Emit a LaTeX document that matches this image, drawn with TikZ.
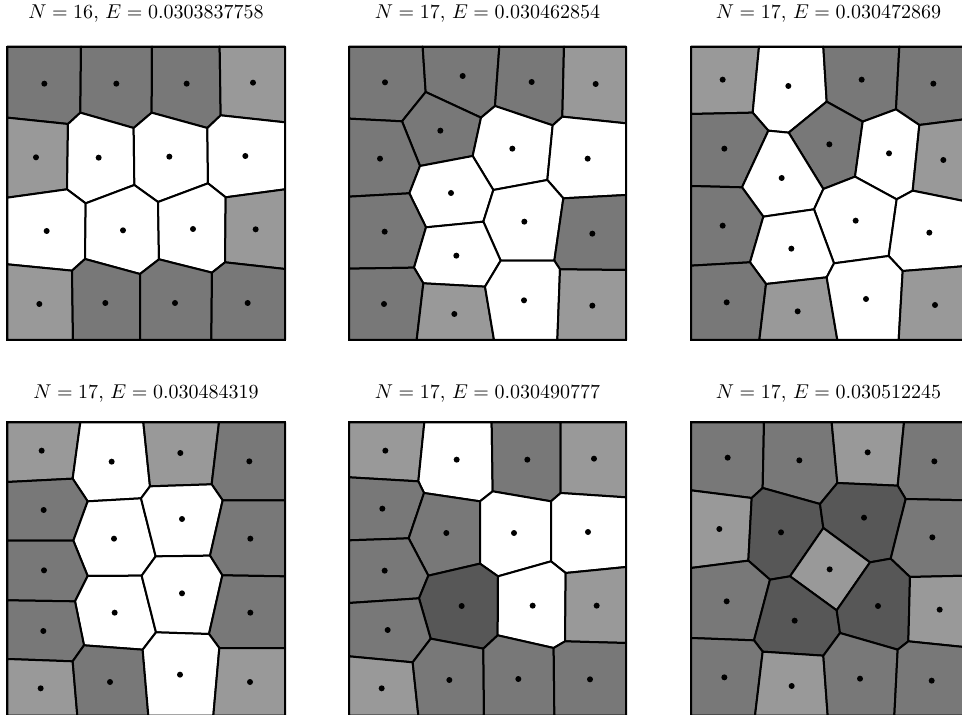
\documentclass[tikz,border=0pt]{standalone}
\usepackage{xcolor}
\usepackage{tikz}

\definecolor{lightcell}{gray}{0.6}
\definecolor{darkcell}{gray}{0.47}
\definecolor{darkestcell}{gray}{0.34}

\begin{document}
\begin{tikzpicture}[x=0.5pt,y=-0.5pt,
    cell/.style={draw=black,line width=1pt,line join=round},
    side4/.style={cell,fill=lightcell},
    side5/.style={cell,fill=darkcell},
    side6/.style={cell,fill=white},
    side7/.style={cell,fill=darkestcell},
    frame/.style={draw=black,line width=1pt},
    title/.style={anchor=base,inner sep=0pt}]
  \useasboundingbox (0,0) rectangle (962,715);
  \clip (0,0) rectangle (962,715);

  % titles
  \node[title] (t1) at (146,18.3) {$N=16$, $E=0.0303837758$};
  \node[title] (t2) at (487.5,18.3) {$N=17$, $E=0.030462854$};
  \node[title] (t3) at (828.5,18.3) {$N=17$, $E=0.030472869$};
  \node[title] (t4) at (146,398.3) {$N=17$, $E=0.030484319$};
  \node[title] (t5) at (487.5,398.3) {$N=17$, $E=0.030490777$};
  \node[title] (t6) at (828.5,398.3) {$N=17$, $E=0.030512245$};

  % panel 1
  \begin{scope}[shift={(0,40)},scale=1/3]
    \filldraw[side5] (22,20)--(243,20)--(241,218)--(204,252)--(22,233)--cycle;
    \filldraw[side5] (243,20)--(456,20)--(455,218)--(401,264)--(241,218)--cycle;
    \filldraw[side5] (456,20)--(659,20)--(662,226)--(622,264)--(455,218)--cycle;
    \filldraw[side4] (659,20)--(855,20)--(855,247)--(662,226)--cycle;
    \filldraw[side4] (22,233)--(204,252)--(201,448)--(22,473)--cycle;
    \filldraw[side6] (204,252)--(241,218)--(401,264)--(403,435)--(257,490)--(201,448)--cycle;
    \filldraw[side6] (401,264)--(455,218)--(622,264)--(624,430)--(474,486)--(403,435)--cycle;
    \filldraw[side6] (622,264)--(662,226)--(855,247)--(855,448)--(677,472)--(624,430)--cycle;
    \filldraw[side6] (22,473)--(201,448)--(257,490)--(255,657)--(216,692)--(22,673)--cycle;
    \filldraw[side6] (257,490)--(403,435)--(474,486)--(477,658)--(420,702)--(255,657)--cycle;
    \filldraw[side6] (474,486)--(624,430)--(677,472)--(675,667)--(636,698)--(477,658)--cycle;
    \filldraw[side4] (677,472)--(855,448)--(855,687)--(675,667)--cycle;
    \filldraw[side4] (22,673)--(216,692)--(219,900)--(22,900)--cycle;
    \filldraw[side5] (216,692)--(255,657)--(420,702)--(420,900)--(219,900)--cycle;
    \filldraw[side5] (420,702)--(477,658)--(636,698)--(634,900)--(420,900)--cycle;
    \filldraw[side5] (636,698)--(675,667)--(855,687)--(855,900)--(634,900)--cycle;
    \draw[frame] (22,20) rectangle (855,900);
    \foreach \p in {(133,131),(349,131),(560,131),(759,128),(108,352),(296,353),
        (508,350),(736,348),(140,573),(369,571),(579,567),(767,568),(118,792),
        (316,789),(525,789),(743,789)}
      \fill \p circle[radius=9];
  \end{scope}

  % panel 2
  \begin{scope}[shift={(340,40)},scale=1/3]
    \filldraw[side5] (27,20)--(248,20)--(257,156)--(186,244)--(27,236)--cycle;
    \filldraw[side5] (248,20)--(478,20)--(465,198)--(423,233)--(257,156)--cycle;
    \filldraw[side5] (478,20)--(672,20)--(667,230)--(638,256)--(465,198)--cycle;
    \filldraw[side4] (672,20)--(858,20)--(858,250)--(667,230)--cycle;
    \filldraw[side5] (257,156)--(423,233)--(398,348)--(240,378)--(186,244)--cycle;
    \filldraw[side5] (27,236)--(186,244)--(240,378)--(208,460)--(27,470)--cycle;
    \filldraw[side6] (423,233)--(465,198)--(638,256)--(622,420)--(460,450)--(398,348)--cycle;
    \filldraw[side6] (638,256)--(667,230)--(858,250)--(858,465)--(670,475)--(622,420)--cycle;
    \filldraw[side6] (240,378)--(398,348)--(460,450)--(430,545)--(258,562)--(208,460)--cycle;
    \filldraw[side5] (27,470)--(208,460)--(258,562)--(222,683)--(27,686)--cycle;
    \filldraw[side6] (460,450)--(622,420)--(670,475)--(643,662)--(482,662)--(430,545)--cycle;
    \filldraw[side5] (670,475)--(858,465)--(858,690)--(660,688)--(643,662)--cycle;
    \filldraw[side6] (258,562)--(430,545)--(482,662)--(435,740)--(250,730)--(222,683)--cycle;
    \filldraw[side5] (27,686)--(222,683)--(250,730)--(230,900)--(27,900)--cycle;
    \filldraw[side4] (250,730)--(435,740)--(462,900)--(230,900)--cycle;
    \filldraw[side6] (482,662)--(643,662)--(660,688)--(652,900)--(462,900)--(435,740)--cycle;
    \filldraw[side4] (660,688)--(858,690)--(858,900)--(652,900)--cycle;
    \draw[frame] (27,20) rectangle (858,900);
    \foreach \p in {(135,127),(368,108),(575,126),(767,132),(301,272),(120,356),
        (517,326),(743,356),(333,459),(134,575),(553,545),(757,581),(349,647),
        (132,792),(343,822),(552,781),(757,797)}
      \fill \p circle[radius=9];
  \end{scope}

  % panel 3
  \begin{scope}[shift={(680,40)},scale=1/3]
    \filldraw[side4] (33,20)--(237,20)--(218,218)--(33,222)--cycle;
    \filldraw[side6] (237,20)--(430,20)--(440,185)--(326,278)--(265,272)--(218,218)--cycle;
    \filldraw[side5] (430,20)--(658,20)--(648,208)--(548,245)--(440,185)--cycle;
    \filldraw[side5] (658,20)--(861,20)--(861,237)--(718,255)--(648,208)--cycle;
    \filldraw[side5] (33,222)--(218,218)--(265,272)--(186,442)--(33,438)--cycle;
    \filldraw[side5] (326,278)--(440,185)--(548,245)--(525,410)--(430,447)--cycle;
    \filldraw[side6] (265,272)--(326,278)--(430,447)--(402,508)--(250,530)--(186,442)--cycle;
    \filldraw[side6] (548,245)--(648,208)--(718,255)--(698,452)--(650,478)--(525,410)--cycle;
    \filldraw[side4] (718,255)--(861,237)--(861,485)--(698,452)--cycle;
    \filldraw[side5] (33,438)--(186,442)--(250,530)--(210,667)--(33,677)--cycle;
    \filldraw[side6] (430,447)--(525,410)--(650,478)--(626,648)--(462,670)--(402,508)--cycle;
    \filldraw[side6] (650,478)--(698,452)--(861,485)--(861,678)--(668,693)--(626,648)--cycle;
    \filldraw[side6] (250,530)--(402,508)--(462,670)--(440,712)--(258,732)--(210,667)--cycle;
    \filldraw[side5] (33,677)--(210,667)--(258,732)--(238,900)--(33,900)--cycle;
    \filldraw[side4] (258,732)--(440,712)--(472,900)--(238,900)--cycle;
    \filldraw[side6] (462,670)--(626,648)--(668,693)--(656,900)--(472,900)--(440,712)--cycle;
    \filldraw[side4] (668,693)--(861,678)--(861,900)--(656,900)--cycle;
    \draw[frame] (33,20) rectangle (861,900);
    \foreach \p in {(128,119),(325,138),(545,119),(760,131),(133,326),(448,313),
        (305,414),(627,340),(790,360),(128,557),(527,542),(748,578),(334,626),
        (140,787),(353,814),(558,777),(765,795)}
      \fill \p circle[radius=9];
  \end{scope}

  % panel 4
  \begin{scope}[shift={(0,413)},scale=1/3]
    \filldraw[side4] (22,28)--(241,28)--(218,197)--(22,207)--cycle;
    \filldraw[side6] (241,28)--(430,28)--(450,220)--(423,256)--(263,265)--(218,197)--cycle;
    \filldraw[side4] (430,28)--(657,28)--(635,214)--(450,220)--cycle;
    \filldraw[side5] (657,28)--(855,28)--(855,262)--(668,262)--(635,214)--cycle;
    \filldraw[side5] (22,207)--(218,197)--(263,265)--(220,383)--(22,383)--cycle;
    \filldraw[side6] (263,265)--(423,256)--(467,430)--(425,488)--(263,489)--(220,383)--cycle;
    \filldraw[side6] (423,256)--(450,220)--(635,214)--(668,262)--(630,428)--(467,430)--cycle;
    \filldraw[side5] (668,262)--(855,262)--(855,490)--(667,487)--(630,428)--cycle;
    \filldraw[side5] (22,383)--(220,383)--(263,489)--(225,565)--(22,562)--cycle;
    \filldraw[side6] (263,489)--(425,488)--(468,658)--(428,710)--(252,697)--(225,565)--cycle;
    \filldraw[side6] (425,488)--(467,430)--(630,428)--(667,487)--(627,663)--(468,658)--cycle;
    \filldraw[side5] (667,487)--(855,490)--(855,705)--(658,705)--(627,663)--cycle;
    \filldraw[side5] (22,562)--(225,565)--(252,697)--(218,745)--(22,738)--cycle;
    \filldraw[side4] (22,738)--(218,745)--(232,908)--(22,908)--cycle;
    \filldraw[side5] (218,745)--(252,697)--(428,710)--(445,908)--(232,908)--cycle;
    \filldraw[side6] (428,710)--(468,658)--(627,663)--(658,705)--(640,908)--(445,908)--cycle;
    \filldraw[side4] (658,705)--(855,705)--(855,908)--(640,908)--cycle;
    \draw[frame] (22,28) rectangle (855,908);
    \foreach \p in {(125,113),(335,146),(541,120),(748,145),(131,291),(342,377),
        (546,318),(751,377),(132,472),(344,599),(546,541),(751,599),(130,654),
        (122,826),(330,807),(540,785),(750,807)}
      \fill \p circle[radius=9];
  \end{scope}

  % panel 5
  \begin{scope}[shift={(340,413)},scale=1/3]
    \filldraw[side4] (27,28)--(253,28)--(235,205)--(27,193)--cycle;
    \filldraw[side6] (253,28)--(455,28)--(458,235)--(420,265)--(252,240)--(235,205)--cycle;
    \filldraw[side5] (455,28)--(662,28)--(662,240)--(633,265)--(458,235)--cycle;
    \filldraw[side4] (662,28)--(858,28)--(858,253)--(662,240)--cycle;
    \filldraw[side5] (27,193)--(235,205)--(252,240)--(206,376)--(27,382)--cycle;
    \filldraw[side5] (252,240)--(420,265)--(420,452)--(265,488)--(206,376)--cycle;
    \filldraw[side6] (420,265)--(458,235)--(633,265)--(633,445)--(474,490)--(420,452)--cycle;
    \filldraw[side6] (633,265)--(662,240)--(858,253)--(858,462)--(677,480)--(633,445)--cycle;
    \filldraw[side5] (27,382)--(206,376)--(265,488)--(237,556)--(27,570)--cycle;
    \filldraw[side7] (265,488)--(420,452)--(474,490)--(473,667)--(430,707)--(272,677)--(237,556)--cycle;
    \filldraw[side6] (474,490)--(633,445)--(677,480)--(675,685)--(641,705)--(473,667)--cycle;
    \filldraw[side4] (677,480)--(858,462)--(858,690)--(675,685)--cycle;
    \filldraw[side5] (27,570)--(237,556)--(272,677)--(218,748)--(27,730)--cycle;
    \filldraw[side4] (27,730)--(218,748)--(235,908)--(27,908)--cycle;
    \filldraw[side5] (218,748)--(272,677)--(430,707)--(432,908)--(235,908)--cycle;
    \filldraw[side5] (430,707)--(473,667)--(641,705)--(643,908)--(432,908)--cycle;
    \filldraw[side5] (641,705)--(675,685)--(858,690)--(858,908)--(643,908)--cycle;
    \draw[frame] (27,28) rectangle (858,908);
    \foreach \p in {(136,113),(350,140),(562,140),(762,137),(127,287),(319,360),
        (522,360),(744,357),(134,473),(365,579),(578,578),(770,578),(143,651),
        (125,826),(328,801),(535,798),(750,799)}
      \fill \p circle[radius=9];
  \end{scope}

  % panel 6
  \begin{scope}[shift={(680,413)},scale=1/3]
    \filldraw[side5] (33,28)--(252,28)--(248,225)--(215,255)--(33,232)--cycle;
    \filldraw[side5] (252,28)--(455,28)--(472,210)--(420,273)--(248,225)--cycle;
    \filldraw[side4] (455,28)--(672,28)--(653,218)--(472,210)--cycle;
    \filldraw[side5] (672,28)--(861,28)--(861,262)--(677,258)--(653,218)--cycle;
    \filldraw[side4] (33,232)--(215,255)--(205,443)--(33,465)--cycle;
    \filldraw[side7] (215,255)--(248,225)--(420,273)--(430,345)--(330,490)--(270,500)--(205,443)--cycle;
    \filldraw[side7] (420,273)--(472,210)--(653,218)--(677,258)--(632,437)--(570,448)--(430,345)--cycle;
    \filldraw[side5] (677,258)--(861,262)--(861,488)--(690,492)--(632,437)--cycle;
    \filldraw[side4] (430,345)--(570,448)--(470,592)--(330,490)--cycle;
    \filldraw[side5] (33,465)--(205,443)--(270,500)--(222,682)--(33,675)--cycle;
    \filldraw[side7] (270,500)--(330,490)--(470,592)--(480,660)--(430,728)--(248,716)--(222,682)--cycle;
    \filldraw[side7] (570,448)--(632,437)--(690,492)--(685,685)--(653,710)--(480,660)--(470,592)--cycle;
    \filldraw[side4] (690,492)--(861,488)--(861,703)--(685,685)--cycle;
    \filldraw[side5] (33,675)--(222,682)--(248,716)--(225,908)--(33,908)--cycle;
    \filldraw[side4] (248,716)--(430,728)--(443,908)--(225,908)--cycle;
    \filldraw[side5] (430,728)--(480,660)--(653,710)--(643,908)--(443,908)--cycle;
    \filldraw[side5] (653,710)--(685,685)--(861,703)--(861,908)--(643,908)--cycle;
    \draw[frame] (33,28) rectangle (861,908);
    \foreach \p in {(143,134),(358,142),(563,118),(763,145),(118,348),(303,358),
        (552,314),(757,373),(449,469),(140,565),(344,623),(594,579),(779,590),
        (133,793),(335,819),(540,797),(755,803)}
      \fill \p circle[radius=9];
  \end{scope}
\end{tikzpicture}
\end{document}
